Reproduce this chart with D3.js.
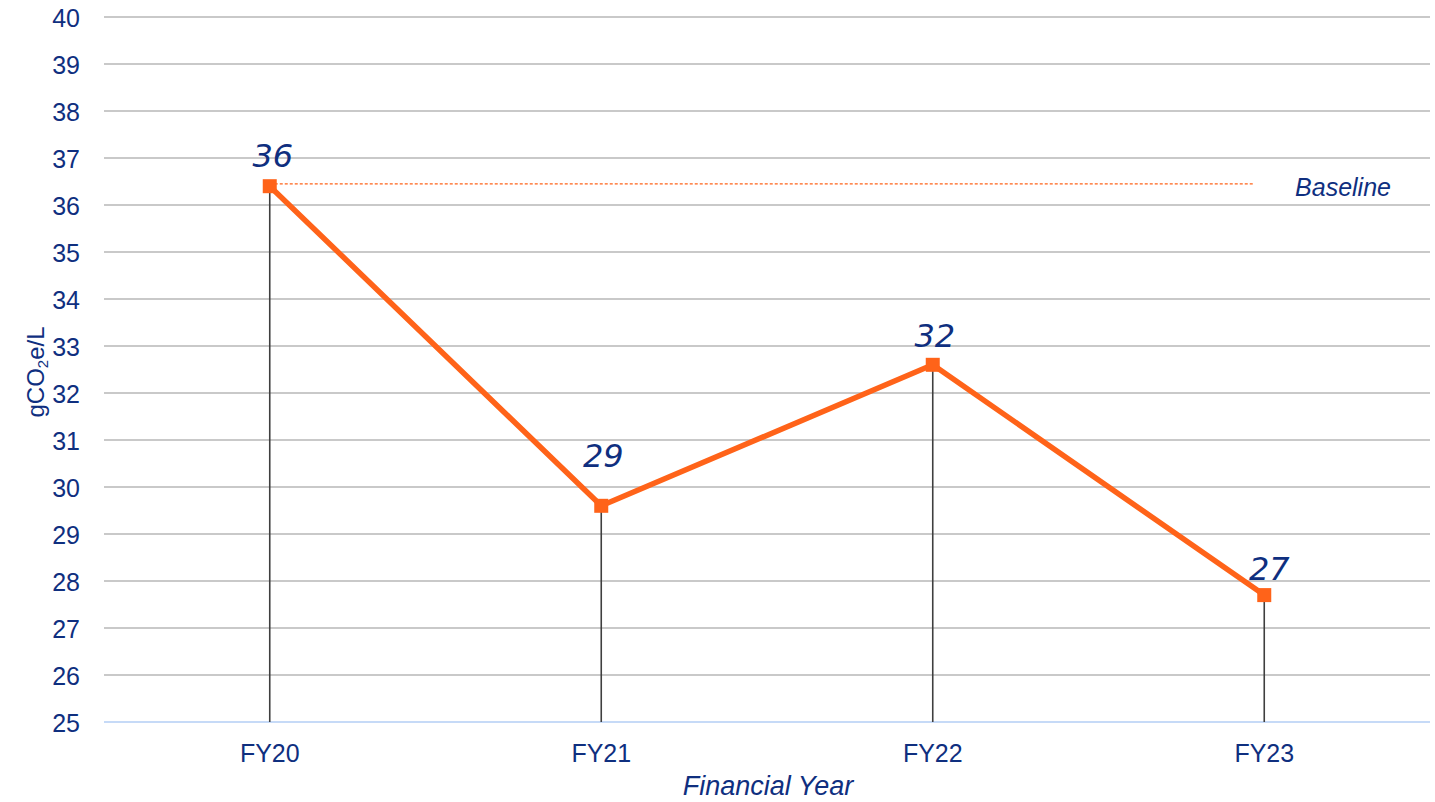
<!DOCTYPE html>
<html>
<head>
<meta charset="utf-8">
<script src="https://cdn.jsdelivr.net/npm/d3@7"></script>
<style>
  body { margin: 0; background: #fff; }
  .tick text { font-family: "Liberation Sans", Arial, sans-serif; fill: #0f2f7f; }
</style>
</head>
<body>
<script>
//chart values
var years = ["FY20", "FY21", "FY22", "FY23"];
var intensity = [36.4, 29.6, 32.6, 27.7];
var pointLabels = ["36", "29", "32", "27"];
var yTicks = [25, 26, 27, 28, 29, 30, 31, 32, 33, 34, 35, 36, 37, 38, 39, 40];
var baselineValue = 36.45;

(function (){
    var width = 1435, height = 802;
    var margin = {left: 104, right: 5, top: 17, bottom: 80};
    var blue = "#0f2f7f", orange = "#ff6319";

    var svg = d3.select("body").append("svg")
        .attr("width", width)
        .attr("height", height);

    var x = d3.scaleBand()
        .domain(years)
        .range([margin.left, width - margin.right]);

    var y = d3.scaleLinear()
        .domain([25, 40])
        .range([height - margin.bottom, margin.top]);

    //gridlines
    svg.append("g")
        .selectAll("line")
        .data(yTicks.slice(1))
        .enter()
        .append("line")
        .attr("x1", margin.left)
        .attr("x2", width - margin.right)
        .attr("y1", function(d){ return y(d); })
        .attr("y2", function(d){ return y(d); })
        .attr("stroke", "#c9c9c9")
        .attr("stroke-width", 2);

    //y axis labels
    var yAxis = svg.append("g")
        .attr("transform", "translate(80,0)")
        .call(d3.axisLeft(y).tickValues(yTicks).tickSize(0).tickPadding(0));
    yAxis.select(".domain").remove();
    yAxis.selectAll("text").attr("font-size", 25).attr("dy", "0.36em");

    //x axis
    var xAxis = svg.append("g")
        .attr("transform", "translate(0," + y(25) + ")")
        .call(d3.axisBottom(x).tickSize(0).tickPadding(22));
    xAxis.select(".domain").attr("stroke", "#c6daf7").attr("stroke-width", 2)
        .attr("d", "M" + margin.left + ",0H" + (width - margin.right));
    xAxis.selectAll("text").attr("font-size", 25);

    var cx = function(d, i){ return x(years[i]) + x.bandwidth() / 2; };

    //drop lines
    svg.append("g")
        .selectAll("line")
        .data(intensity)
        .enter()
        .append("line")
        .attr("x1", cx).attr("x2", cx)
        .attr("y1", function(d){ return y(d); })
        .attr("y2", y(25))
        .attr("stroke", "#3f3f3f")
        .attr("stroke-width", 1.6);

    //baseline
    svg.append("line")
        .attr("x1", cx(0, 0))
        .attr("x2", 1253)
        .attr("y1", y(baselineValue))
        .attr("y2", y(baselineValue))
        .attr("stroke", orange)
        .attr("stroke-width", 1.2)
        .attr("stroke-dasharray", "3,2");

    svg.append("text")
        .attr("x", 1343)
        .attr("y", y(baselineValue) + 12)
        .attr("text-anchor", "middle")
        .attr("font-family", "Liberation Sans, Arial, sans-serif")
        .attr("font-style", "italic")
        .attr("font-size", 25)
        .attr("fill", blue)
        .text("Baseline");

    //line
    var line = d3.line()
        .x(cx)
        .y(function(d){ return y(d); });

    svg.append("path")
        .datum(intensity)
        .attr("d", line)
        .attr("fill", "none")
        .attr("stroke", orange)
        .attr("stroke-width", 5.5)
        .attr("stroke-linejoin", "round");

    //markers
    svg.append("g")
        .selectAll("rect")
        .data(intensity)
        .enter()
        .append("rect")
        .attr("x", function(d, i){ return cx(d, i) - 7; })
        .attr("y", function(d){ return y(d) - 7; })
        .attr("width", 14)
        .attr("height", 14)
        .attr("fill", orange);

    //point labels, FY21 label sits higher so it clears the line
    var labelLift = [19, 39, 18, 15];
    var labelShift = [3, 2, 2, 5];
    svg.append("g")
        .selectAll("text")
        .data(intensity)
        .enter()
        .append("text")
        .attr("x", function(d, i){ return cx(d, i) + labelShift[i]; })
        .attr("y", function(d, i){ return y(d) - labelLift[i]; })
        .attr("text-anchor", "middle")
        .attr("font-family", "DejaVu Sans, sans-serif")
        .attr("font-style", "italic")
        .attr("font-weight", 200)
        .attr("font-size", 32)
        .attr("fill", blue)
        .text(function(d, i){ return pointLabels[i]; });

    //axis titles
    svg.append("text")
        .attr("transform", "translate(44,372) rotate(-90)")
        .attr("text-anchor", "middle")
        .attr("font-family", "Liberation Sans, Arial, sans-serif")
        .attr("font-size", 24)
        .attr("fill", blue)
        .html('gCO<tspan font-size="15" dy="4">2</tspan><tspan dy="-4">e/L</tspan>');

    svg.append("text")
        .attr("x", 768)
        .attr("y", 795)
        .attr("text-anchor", "middle")
        .attr("font-family", "Liberation Sans, Arial, sans-serif")
        .attr("font-style", "italic")
        .attr("font-size", 27)
        .attr("fill", blue)
        .text("Financial Year");
})();
</script>
</body>
</html>
